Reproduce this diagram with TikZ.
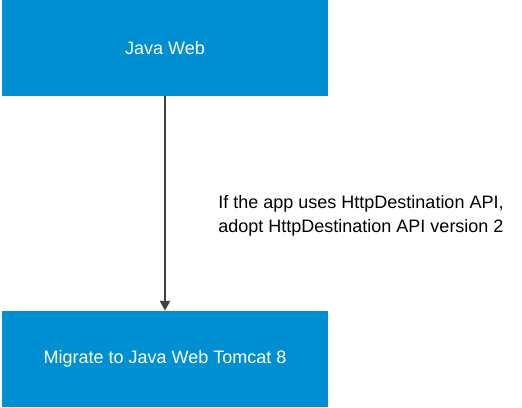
\documentclass[tikz,border=0pt]{standalone}
\usepackage{fontspec}
\setmainfont{Liberation Sans}
\usepackage{tikz}
\usetikzlibrary{arrows.meta}
\definecolor{sapblue}{RGB}{0,143,211}
\definecolor{arrowgray}{RGB}{64,64,64}

\begin{document}
\begin{tikzpicture}[
    stepbox/.style={fill=sapblue,text=white,minimum width=8.15cm,minimum height=2.4cm,inner sep=0pt,font=\fontsize{12.8}{15}\selectfont},
    flow/.style={arrowgray,line width=1.8pt,-{Triangle[length=7pt,width=7pt]}}]
                    \useasboundingbox (0,0) rectangle (13.05,-10.175);
                    \node[stepbox] (web) at (4.125,-1.2) {Java Web};
                    \node[stepbox] (tomcat) at (4.125,-8.975) {Migrate to Java Web Tomcat 8};
                    \node[align=center,font=\fontsize{12.8}{17}\selectfont] (note) at (9.025,-5.4)
                    {If the app uses HttpDestination API,\\adopt HttpDestination API version 2};
                    \draw[flow] (web) -- (tomcat);
                \end{tikzpicture}
\end{document}
